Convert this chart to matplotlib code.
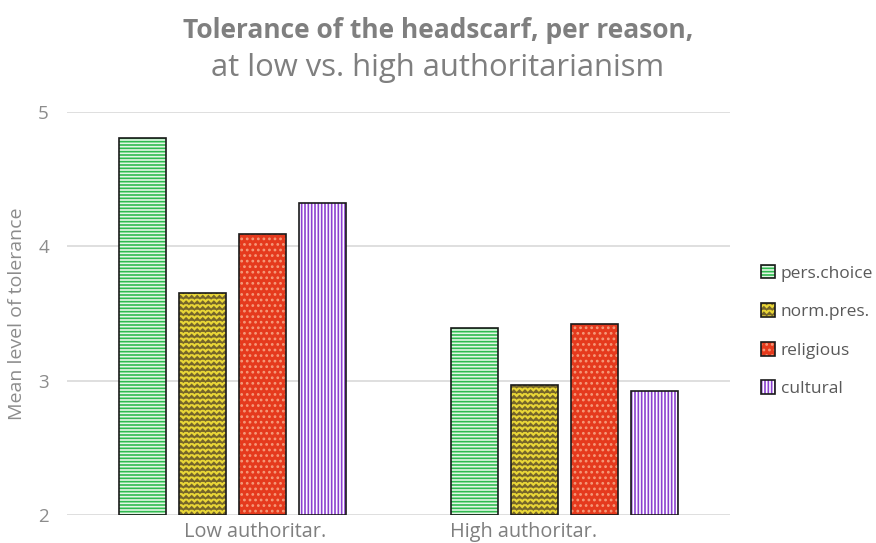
import matplotlib
matplotlib.use("Agg")
import warnings
warnings.filterwarnings("ignore")
import matplotlib.pyplot as plt
import matplotlib.hatch as mhatch
import matplotlib.transforms as mtrans
from matplotlib.path import Path
from matplotlib.legend_handler import HandlerTuple
import numpy as np
from matplotlib.patches import Patch


class ZigzagHatch(mhatch.HatchPatternBase):
    def __init__(self, hatch, density):
        self.num_rows = int(hatch.count('z') * density)
        self.teeth = max(self.num_rows, 1)
        self.per_row = 2 * self.teeth + 1
        self.num_vertices = self.num_rows * self.per_row

    def set_vertices_and_codes(self, vertices, codes):
        if self.num_rows == 0:
            return
        rows, dy = np.linspace(0.0, 1.0, self.num_rows, False, retstep=True)
        amp = dy * 0.25
        xs = np.linspace(0.0, 1.0, self.per_row)
        k = 0
        for r in rows:
            ys = r + dy / 2 + amp * np.where(np.arange(self.per_row) % 2 == 0, -1, 1)
            vertices[k:k + self.per_row, 0] = xs
            vertices[k:k + self.per_row, 1] = ys
            codes[k] = Path.MOVETO
            codes[k + 1:k + self.per_row] = Path.LINETO
            k += self.per_row


mhatch._hatch_types.append(ZigzagHatch)

plt.rcParams['font.family'] = ['Open Sans', 'DejaVu Sans']
plt.rcParams['hatch.linewidth'] = 1.2

groups = ["Low authoritar.", "High authoritar."]
series = ["pers.choice", "norm.pres.", "religious", "cultural"]
pers_choice = [4.81, 3.39]
norm_pres = [3.65, 2.97]
religious = [4.09, 3.42]
cultural = [4.32, 2.92]
values = [pers_choice, norm_pres, religious, cultural]

faces = ["#e4f6e6", "#e9d637", "#e53a1d", "#ffffff"]
hatch_cols = ["#2fbb4f", "#75652a", "#f59a7a", "#8b3fd0"]
hatches = ["-----", "zzz", "...", "|||||"]

fig = plt.figure(figsize=(8.76, 5.43), dpi=100)
ax = fig.add_axes([67/876, 1-515/543, (730-67)/876, (515-112)/543])

x = np.arange(len(groups))
w = 0.142
step = 0.181
handles = []
for i, (name, vals) in enumerate(zip(series, values)):
    pos = x + (i - 1.5) * step
    ax.bar(pos, np.array(vals) - 2, bottom=2, width=w, color=faces[i],
           hatch=hatches[i], edgecolor=hatch_cols[i], linewidth=0, zorder=2)
    ax.bar(pos, np.array(vals) - 2, bottom=2, width=w, fill=False,
           edgecolor="#1a1a1a", linewidth=1.2, zorder=3)
    h1 = Patch(facecolor=faces[i], hatch=hatches[i], edgecolor=hatch_cols[i], linewidth=0)
    h2 = Patch(fill=False, edgecolor="#1a1a1a", linewidth=1.2)
    handles.append((h1, h2))

ax.set_xlim(-0.5, 1.5)
ax.set_ylim(2, 5)
ax.set_yticks([2, 3, 4, 5])
ax.set_xticks(x)
ax.set_xticklabels(groups, fontsize=14.3, color="#7f7f7f")
ax.tick_params(axis='y', labelsize=13.5, labelcolor="#8c8c8c", length=0, pad=13)
ax.tick_params(axis='x', length=0, pad=5)
ax.grid(axis='y', color="#d9d9d9", linewidth=1.2, zorder=0)
for s in ax.spines.values():
    s.set_visible(False)
ax.set_ylabel("Mean level of tolerance", fontsize=14, color="#8c8c8c")
ax.yaxis.set_label_coords(-0.062, 0.5)

shifts = [22, -41]
for lab, dx in zip(ax.get_xticklabels(), shifts):
    lab.set_transform(lab.get_transform() + mtrans.ScaledTranslation(dx / 100, 0, fig.dpi_scale_trans))

fig.text(0.5, 1-30/543, "Tolerance of the headscarf, per reason,", ha='center', va='center',
         fontsize=19, fontweight='bold', color="#7f7f7f")
fig.text(0.5, 1-68/543, "at low vs. high authoritarianism", ha='center', va='center',
         fontsize=22.3, color="#7f7f7f")

leg = fig.legend(handles, series, loc='center left', bbox_to_anchor=(745/876, 1-331/543),
                 frameon=False, fontsize=12.5, labelcolor="#595959",
                 handler_map={tuple: HandlerTuple(ndivide=1, pad=0)},
                 handlelength=0.85, handleheight=0.85, handletextpad=0.3, labelspacing=1.25)

fig.savefig("out.png", dpi=100)
